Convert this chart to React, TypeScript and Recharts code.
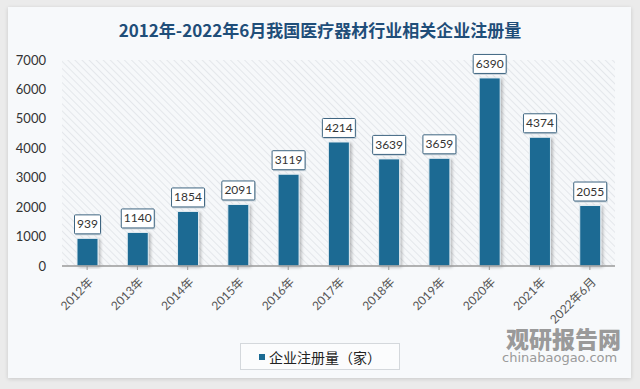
import { Bar, BarChart, CartesianGrid, LabelList, XAxis, YAxis } from 'recharts'

const YEARS = ['2012年', '2013年', '2014年', '2015年', '2016年', '2017年', '2018年', '2019年', '2020年', '2021年', '2022年6月']
const COUNTS = [939, 1140, 1854, 2091, 3119, 4214, 3639, 3659, 6390, 4374, 2055]
const Y_TICKS = [0, 1000, 2000, 3000, 4000, 5000, 6000, 7000]

const TITLE = '2012年-2022年6月我国医疗器材行业相关企业注册量'
const SERIES_NAME = '企业注册量（家）'

const BAR_COLOR = '#1a6a93'
const FONT = 'Lato, "Noto Sans CJK SC", sans-serif'

const data = YEARS.map((year, i) => ({ year, count: COUNTS[i] }))

function XTick({ x, y, payload }: any) {
  return (
    <g transform={`translate(${x + 4},${y + 8}) rotate(-45)`}>
      <text x={0} y={0} dy={4} textAnchor="end" fontSize={12} fill="#555" fontFamily={FONT}>
        {payload.value}
      </text>
    </g>
  )
}

function ValueBox({ x, y, width, value }: any) {
  const text = String(value)
  const w = text.length * 7 + 5
  const h = 19
  const cx = x + width / 2
  const cy = y - 14
  return (
    <g>
      <rect x={cx - w / 2 + 1} y={cy - h / 2 + 1.5} width={w} height={h} fill="#c9d3da" />
      <rect x={cx - w / 2} y={cy - h / 2} width={w} height={h} fill="#ffffff" stroke="#3e6581" strokeWidth={1} rx={1} />
      <text x={cx} y={cy + 4} textAnchor="middle" fontSize={12} fill="#333" fontFamily={FONT}>
        {text}
      </text>
    </g>
  )
}

export default function App() {
  return (
    <div style={{ position: 'fixed', left: 0, top: 0, width: 640, height: 389, background: '#ebebeb', overflow: 'hidden' }}>
      <div
        style={{
          position: 'absolute',
          left: 8,
          top: 7,
          width: 623,
          height: 371,
          background: '#f7f9fb',
          boxShadow: '0 1px 4px rgba(0,0,0,0.15)',
        }}
      />
      <div
        style={{
          position: 'absolute',
          left: 0,
          top: 18,
          width: 640,
          textAlign: 'center',
          fontFamily: '"Noto Sans CJK SC", sans-serif',
          fontWeight: 700,
          fontSize: 17,
          color: '#1f4e79',
          lineHeight: '24px',
        }}
      >
        {TITLE}
      </div>
      <div style={{ position: 'absolute', left: 0, top: 0 }}>
        <BarChart width={640} height={389} data={data} margin={{ top: 60, right: 25, left: 0, bottom: 93 }}>
          <defs>
            <pattern id="hatch" width="5" height="5" patternUnits="userSpaceOnUse" patternTransform="rotate(-45)">
              <rect width="5" height="5" fill="#f6f8fa" />
              <line x1="0" y1="0" x2="0" y2="5" stroke="#dfe2e6" strokeWidth={1.5} />
            </pattern>
            <filter id="barShadow" x="-30%" y="-10%" width="160%" height="120%">
              <feDropShadow dx={2} dy={1} stdDeviation={1.5} floodColor="#000" floodOpacity={0.25} />
            </filter>
          </defs>
          <CartesianGrid horizontal={false} vertical={false} fill="url(#hatch)" />
          <XAxis
            dataKey="year"
            interval={0}
            height={30}
            tick={<XTick />}
            tickLine={{ stroke: '#999' }}
            tickSize={4}
            axisLine={{ stroke: '#9a9a9a', strokeWidth: 1.5 }}
          />
          <YAxis
            width={62}
            domain={[0, 7000]}
            ticks={Y_TICKS}
            interval={0}
            axisLine={false}
            tickLine={false}
            tickSize={0}
            tickMargin={16}
            tick={{ fontSize: 13, fill: '#333', fontFamily: FONT }}
          />
          <Bar
            dataKey="count"
            fill={BAR_COLOR}
            barSize={21}
            stroke="#e4edf3"
            strokeWidth={1}
            filter="url(#barShadow)"
            isAnimationActive={false}
          >
            <LabelList dataKey="count" content={<ValueBox />} />
          </Bar>
        </BarChart>
      </div>
      <div
        style={{
          position: 'absolute',
          left: 240,
          top: 343,
          width: 158,
          height: 25,
          background: '#fbfcfd',
          border: '1px solid #d4d8dc',
          display: 'flex',
          alignItems: 'center',
          fontFamily: '"Noto Sans CJK SC", sans-serif',
          fontSize: 14,
          color: '#222',
        }}
      >
        <span style={{ display: 'inline-block', width: 6, height: 6, background: BAR_COLOR, marginLeft: 18, marginRight: 4 }} />
        <span>{SERIES_NAME}</span>
      </div>
      <div
        style={{
          position: 'absolute',
          left: 506,
          top: 324,
          fontFamily: '"Noto Sans CJK SC", sans-serif',
          fontWeight: 900,
          fontSize: 23,
          color: '#9a9a9a',
          lineHeight: '28px',
        }}
      >
        观研报告网
      </div>
      <div
        style={{
          position: 'absolute',
          left: 502,
          top: 350,
          fontFamily: '"DejaVu Sans", sans-serif',
          fontSize: 13,
          color: '#9a9a9a',
          lineHeight: '16px',
        }}
      >
        chinabaogao.com
      </div>
    </div>
  )
}
